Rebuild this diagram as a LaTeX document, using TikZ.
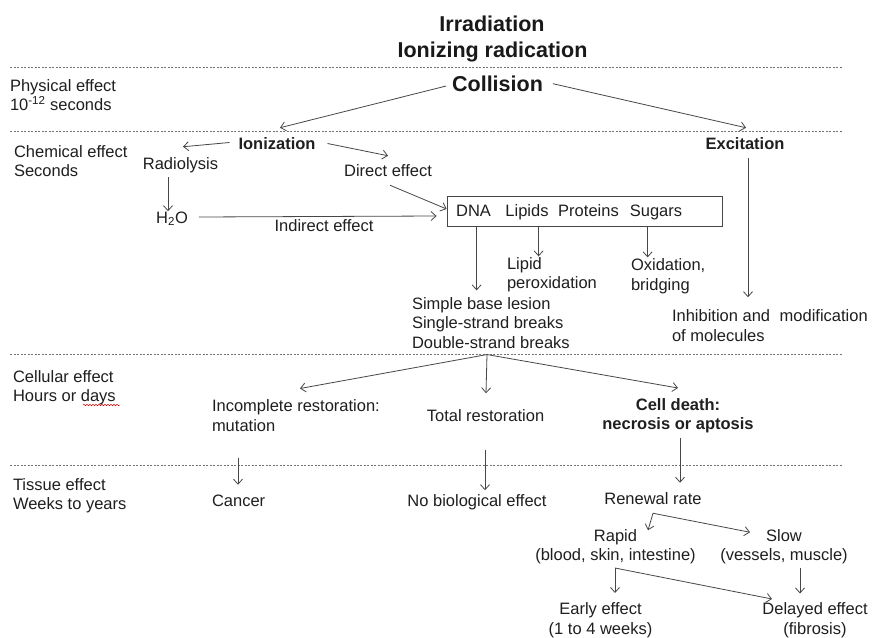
\documentclass[tikz,border=0pt]{standalone}
\usepackage{fontspec}
\setmainfont{Liberation Sans}
\usetikzlibrary{arrows.meta,calc,decorations.pathmorphing}

\begin{document}
\begin{tikzpicture}[x=1pt,y=-1pt,
  lbl/.style={inner sep=0pt, outer sep=0pt, text=black!88,
    font=\fontsize{16.5}{19.5}\selectfont},
  one/.style={lbl, text height=12pt, text depth=3.5pt},
  multi/.style={lbl, align=left, anchor=west},
  boldface/.style={font=\fontsize{16.5}{19.5}\selectfont\bfseries},
  titlefont/.style={inner sep=0pt, outer sep=0pt, text=black!90,
    font=\fontsize{21.5}{26}\selectfont\bfseries,
    text height=15.5pt, text depth=4.5pt},
  arr/.style={draw=black!72, line width=0.8pt,
    -{Straight Barb[length=5pt,width=9pt]}},
  tier/.style={draw=black!55, line width=0.7pt, dash pattern=on 2pt off 1.5pt},
]
\fill[white] (0,0) rectangle (872,637);
\useasboundingbox (0,0) rectangle (872,637);

% time-scale separators
\draw[tier] (10,67) -- (843,67);
\draw[tier] (10,131) -- (843,131);
\draw[tier] (10,354) -- (843,354);
\draw[tier] (10,465) -- (843,465);

% heading
\node[titlefont] (irr) at (492,25.5) {Irradiation};
\node[titlefont] (ionrad) at (492.5,51.5) {Ionizing radication};
\node[titlefont] (collision) at (497.5,85.7) {Collision};

% stage labels
\node[multi] (phys) at (10,95) {Physical effect\\10\textsuperscript{-12} seconds};
\node[multi] (chem) at (14,161) {Chemical effect\\Seconds};
\node[multi] (cell) at (13,387.5) {Cellular effect\\Hours or days};
\node[multi] (tissue) at (13,495.5) {Tissue effect\\Weeks to years};
\draw[red!85!black, line width=0.5pt, decorate,
  decoration={snake, amplitude=0.7pt, segment length=3pt}]
  ($(cell.west)+(70,17.5)$) -- ++(37,0);

% chemical stage
\node[one, boldface] (ioniz) at (277,145.5) {Ionization};
\node[one, boldface] (excit) at (745,145.5) {Excitation};
\node[one] (radio) at (180.5,165.5) {Radiolysis};
\node[one] (direct) at (388,172.5) {Direct effect};
\node[one] (h2o) at (172,219) {H\textsubscript{2}O};
\node[one] (indirect) at (324,227.5) {Indirect effect};

\node[draw=black!72, line width=0.8pt, minimum width=275pt, minimum height=30pt,
  inner sep=0pt] (box) at (584.5,211) {};
\node[one] (dna) at (473.5,212.5) {DNA};
\node[one] (lipids) at (527,212.5) {Lipids};
\node[one] (proteins) at (588.5,212.5) {Proteins};
\node[one] (sugars) at (656,212.5) {Sugars};

\node[multi] (lipidperox) at (507,274.5) {Lipid\\peroxidation};
\node[multi] (oxid) at (631,276) {Oxidation,\\bridging};
\node[multi] (simple) at (412,323) {Simple base lesion\\Single-strand breaks\\Double-strand breaks};
\node[multi] (inhib) at (672,325.5) {Inhibition and\hspace{5pt} modification\\of molecules};

% cellular stage
\node[multi] (incomplete) at (212,415.5) {Incomplete restoration:\\mutation};
\node[one] (total) at (485.5,417.5) {Total restoration};
\node[lbl, boldface, align=center] (death) at (678,415.5) {Cell death:\\necrosis or aptosis};

% tissue stage
\node[one, anchor=west] (cancer) at (212,502.5) {Cancer};
\node[one] (nobio) at (477,502) {No biological effect};
\node[one] (renewal) at (653,500.5) {Renewal rate};
\node[lbl, align=center] (rapid) at (615.5,546.5) {Rapid\\(blood, skin, intestine)};
\node[lbl, align=center] (slow) at (784,546.5) {Slow\\(vessels, muscle)};
\node[lbl, align=center] (early) at (600.5,620) {Early effect\\(1 to 4 weeks)};
\node[lbl, align=center] (delayed) at (815,620) {Delayed effect\\(fibrosis)};

% connectors
\draw[arr] ($(collision.west)+(-6,0.3)$) -- ($(ioniz.north)+(3,-10)$);
\draw[arr] ($(collision.east)+(10,-2)$) -- ($(excit.north)+(1,-10)$);
\draw[arr] ($(ioniz.west)+(-9,-3)$) -- ($(radio.north)+(2.5,-11)$);
\draw[arr] ($(ioniz.east)+(12,-2)$) -- ($(direct.north)+(0,-9)$);
\draw[arr] ($(radio.south)+(-12.5,4)$) -- ($(h2o.north)+(-4,0)$);
\draw[arr] ($(h2o.east)+(11,-2)$) -- ($(box.west)+(-10,5)$);
\draw[arr] ($(direct.south)+(2,5)$) -- ($(box.west)+(0,-2)$);
\draw[arr] ($(excit.south)+(3,5)$) -- ++(0,139);
\draw[arr] ($(box.south west)+(30,0)$) -- ++(0,64);
\draw[arr] ($(box.south west)+(92,0)$) -- ++(0,30);
\draw[arr] ($(box.south west)+(201,0)$) -- ++(0,31);

\coordinate (fork) at ($(simple.south west)+(75,6)$);
\draw[arr] (fork) -- ($(incomplete.west)+(88,-27)$);
\draw[arr] (fork) -- ($(total.north)+(0.5,-16.5)$);
\draw[arr] (fork) -- ($(death.center)+(0,-27.5)$);

\draw[arr] ($(cancer.north west)+(26,-37)$) -- ++(0,27);
\draw[arr] ($(nobio.north)+(8,-44)$) -- ++(0,40);
\draw[arr] ($(renewal.north)+(27,-55)$) -- ++(0,45);

\coordinate (rfork) at ($(renewal.south)+(0,5)$);
\draw[arr] (rfork) -- ++(-5,17);
\draw[arr] (rfork) -- ++(97,19);

\coordinate (efork) at ($(rapid.center)+(-0.5,21.5)$);
\draw[arr] (efork) -- ++(0,25);
\draw[arr] (efork) -- ++(157,31);
\draw[arr] ($(slow.center)+(16,21)$) -- ++(0,26);
\end{tikzpicture}
\end{document}
